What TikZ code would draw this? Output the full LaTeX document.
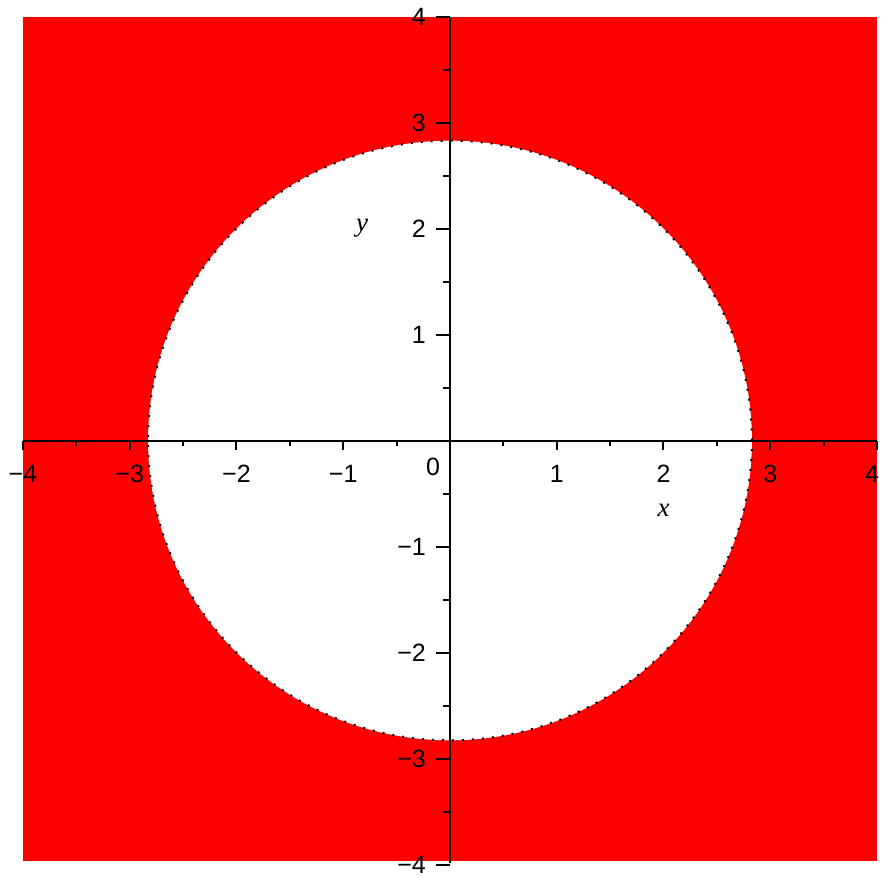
\documentclass[tikz,border=0pt]{standalone}
\usepackage{fontspec}
\setmainfont{Liberation Sans}
\newfontfamily\varfont{Liberation Serif}

\begin{document}
\begin{tikzpicture}[x=106.75pt, y=106pt, line cap=butt, line join=miter]
  \tikzset{
    axis/.style={line width=2pt, draw=black},
    axtick/.style={line width=2pt, draw=black},
    ticklabel/.style={inner sep=0pt, font=\fontsize{25pt}{27pt}\selectfont},
    varlabel/.style={inner sep=0pt, font=\varfont\itshape\fontsize{27pt}{29pt}\selectfont}
  }
  \definecolor{plotred}{RGB}{255,0,0}

  \useasboundingbox (-4.2155,-4.1274) rectangle (4.0375,4.1557);

  % Red region and the white disc x^2+y^2 < 8
  \fill[plotred] (-4,-3.97) rectangle (4,4);
  \fill[white] (0,0) circle ({sqrt(8)});
  \draw[line width=2pt, dash pattern=on 2pt off 8pt] (0,0) circle ({sqrt(8)});

  % Axes
  \coordinate (xmin) at (-4,0);
  \coordinate (xmax) at (4,0);
  \coordinate (ymin) at (0,-3.99);
  \coordinate (ymax) at (0,4);
  \draw[axis] (xmin) -- (xmax);
  \draw[axis] (ymin) -- (ymax);

  % Ticks on the x axis
  \foreach \v in {-4,-3,-2,-1,1,2,3,4}
    \draw[axtick] (\v,0) -- ++(0,-9pt);
  \foreach \v in {-3.5,-2.5,-1.5,-0.5,0.5,1.5,2.5,3.5}
    \draw[axtick] (\v,0) -- ++(0,-5pt);

  % Ticks on the y axis
  \foreach \v in {-4,-3,-2,-1,1,2,3,4}
    \draw[axtick] (0,\v) -- ++(-14pt,0);
  \foreach \v in {-3.5,-2.5,-1.5,-0.5,0.5,1.5,2.5,3.5}
    \draw[axtick] (0,\v) -- ++(-7pt,0);

  % Tick labels
  \foreach \v/\t [count=\k] in {-4/−4,-3/−3,-2/−2,-1/−1,1/1,2/2,3/3} {
    \node[ticklabel] (xl\k) at (\v,-0.316) {\t};
  }
  \node[ticklabel, anchor=east] (xl8) at (4.02,-0.316) {4};
  \foreach \v/\t [count=\k] in {-4/−4,-3/−3,-2/−2,-1/−1,1/1,2/2,3/3,4/4} {
    \node[ticklabel, anchor=east] (yl\k) at (-0.225,\v) {\t};
  }
  \node[ticklabel] (origin) at (-0.159,-0.25) {0};

  % Axis names
  \node[varlabel] (xname) at (2.0,-0.656) {x};
  \node[varlabel] (yname) at (-0.824,2.005) {y};

\end{tikzpicture}
\end{document}
